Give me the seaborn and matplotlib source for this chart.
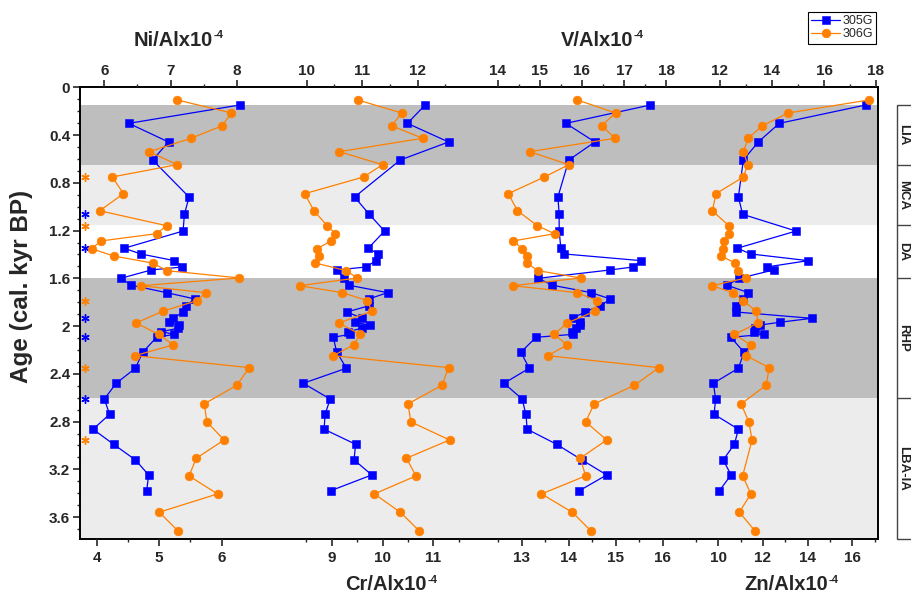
import matplotlib
matplotlib.use("Agg")
import numpy as np
import pandas as pd
import matplotlib.pyplot as plt
import seaborn as sns
from matplotlib.ticker import FixedLocator, FuncFormatter, MultipleLocator, NullFormatter
from matplotlib.patches import Rectangle
import matplotlib.transforms as mtransforms

# ---------------- data ----------------
ages_305G = [0.148, 0.302, 0.458, 0.609, 0.919, 1.064, 1.204, 1.348, 1.396, 1.452,
             1.505, 1.530, 1.600, 1.658, 1.720, 1.773, 1.829, 1.882, 1.935, 1.968,
             1.991, 2.018, 2.047, 2.069, 2.094, 2.219, 2.353, 2.479, 2.611, 2.739,
             2.864, 2.990, 3.121, 3.247, 3.379]
ages_306G = [0.106, 0.215, 0.322, 0.427, 0.539, 0.648, 0.751, 0.891, 1.034, 1.159,
             1.226, 1.287, 1.352, 1.413, 1.472, 1.536, 1.597, 1.662, 1.720, 1.787,
             1.876, 1.974, 2.069, 2.158, 2.248, 2.348, 2.496, 2.652, 2.803, 2.954,
             3.107, 3.255, 3.406, 3.559, 3.714]

ni_305G = [8.05, 6.37, 6.97, 6.73, 7.28, 7.21, 7.19, 6.30, 6.55, 7.06,
           7.18, 6.71, 6.25, 6.41, 6.94, 7.37, 7.23, 7.19, 7.04, 6.98,
           7.13, 7.12, 6.86, 7.06, 6.79, 6.58, 6.47, 6.18, 6.00, 6.08,
           5.83, 6.14, 6.47, 6.67, 6.64]
ni_306G = [7.10, 7.92, 7.78, 7.31, 6.68, 7.10, 6.12, 6.29, 5.93, 6.94,
           6.79, 5.95, 5.81, 6.14, 6.73, 6.95, 8.04, 6.55, 7.53, 7.40,
           6.88, 6.48, 6.82, 7.04, 6.46, 8.19, 8.00, 7.51, 7.55, 7.81,
           7.39, 7.28, 7.71, 6.83, 7.11]

cr_305G = [10.84, 10.49, 11.30, 10.35, 9.45, 9.74, 10.04, 9.72, 9.92, 9.87,
           9.68, 9.10, 9.24, 9.34, 10.10, 9.73, 9.74, 9.30, 9.60, 9.45,
           9.75, 9.59, 9.32, 9.36, 9.03, 9.10, 9.29, 8.44, 8.97, 8.87,
           8.85, 9.47, 9.44, 9.79, 8.98]
cr_306G = [9.51, 10.38, 10.18, 10.79, 9.15, 10.00, 9.63, 8.47, 8.65, 8.91,
           9.07, 8.99, 8.71, 8.75, 8.68, 9.29, 9.50, 8.37, 9.21, 9.70,
           9.79, 9.14, 9.56, 9.43, 9.03, 11.30, 11.17, 10.50, 10.56, 11.32,
           10.47, 10.66, 9.84, 10.35, 10.72]

v_305G = [17.63, 15.62, 16.31, 15.69, 15.43, 15.46, 15.46, 15.50, 15.58, 17.41,
          17.22, 16.67, 14.96, 15.30, 16.22, 16.68, 16.44, 16.07, 15.78, 15.96,
          15.96, 15.86, 15.76, 15.80, 14.91, 14.55, 14.75, 14.15, 14.58, 14.67,
          14.70, 15.40, 16.00, 16.59, 15.94]
v_306G = [15.89, 16.80, 16.47, 16.79, 14.76, 15.69, 15.11, 14.25, 14.47, 14.94,
          15.35, 14.37, 14.58, 14.70, 14.69, 14.96, 15.97, 14.36, 15.88, 16.37,
          16.31, 15.65, 15.34, 15.65, 15.19, 17.83, 17.25, 16.29, 16.09, 16.59,
          15.96, 16.09, 15.04, 15.77, 16.21]

zn_305G = [16.60, 12.73, 11.79, 11.12, 10.90, 11.09, 13.48, 10.85, 11.45, 14.02,
           12.17, 12.48, 10.94, 10.40, 11.34, 11.12, 10.79, 10.79, 14.18, 12.76,
           11.87, 11.64, 11.60, 12.05, 10.56, 11.15, 10.90, 9.78, 9.88, 9.81,
           10.90, 10.72, 10.22, 10.57, 10.05]
zn_306G = [16.75, 13.13, 11.97, 11.34, 11.12, 11.32, 11.12, 9.90, 9.73, 10.47,
           10.47, 10.24, 10.20, 10.13, 10.75, 10.90, 11.24, 9.73, 10.65, 11.12,
           11.70, 11.78, 10.72, 11.45, 11.24, 12.28, 12.14, 11.02, 11.37, 11.51,
           np.nan, 11.09, 11.46, 10.94, 11.64]

star_ages_305G = [1.064, 1.348, 1.935, 2.094, 2.611]
star_ages_306G = [0.751, 1.159, 1.787, 2.348, 2.954]

periods = ["LIA", "MCA", "DA", "RHP", "LBA-IA"]
period_bounds = [0.15, 0.65, 1.15, 1.6, 2.6, 3.786]
period_shades = ["#bebebe", "#ececec", "#ffffff", "#bebebe", "#ececec"]

series_names = ["305G", "306G"]
title_names = ["Ni/Alx10", "Cr/Alx10", "V/Alx10", "Zn/Alx10"]
title_exponent = "-4"

# ---------------- style ----------------
sns.set_style("white")
plt.rcParams["font.family"] = ["Liberation Sans", "DejaVu Sans"]
plt.rcParams["font.weight"] = "bold"

BLUE = "#0000ff"
ORANGE = "#ff8000"

W, H = 911, 598
fig = plt.figure(figsize=(W / 100, H / 100), dpi=100)

FL, FR, FT, FB = 80, 878, 87.3, 539.3
rect = [FL / W, (H - FB) / H, (FR - FL) / W, (FB - FT) / H]
YMAX = 3.786

# main frame axes
ax = fig.add_axes(rect)
ax.set_xlim(0, 1)
ax.set_ylim(YMAX, 0)
for i in range(len(periods)):
    ax.axhspan(period_bounds[i], period_bounds[i + 1], color=period_shades[i], lw=0, zorder=0)
ax.set_xticks([])
ax.yaxis.set_major_locator(FixedLocator(np.arange(0, 3.61, 0.4)))
ax.yaxis.set_minor_locator(MultipleLocator(0.1))
ax.yaxis.set_major_formatter(FuncFormatter(lambda v, p: f"{v:g}"))
ax.tick_params(axis="y", which="major", direction="out", length=5, width=1.2,
               labelsize=11, pad=2, left=True)
ax.tick_params(axis="y", which="minor", direction="out", length=2.5, width=1.0, left=True)
for s in ax.spines.values():
    s.set_linewidth(1.4)
    s.set_color("black")
    s.set_visible(True)

# asterisks
trans = mtransforms.blended_transform_factory(ax.transAxes, ax.transData)
ax.plot([5 / (FR - FL)] * len(star_ages_306G), star_ages_306G, ls="none",
        marker=(6, 2, 0), ms=6, mew=1.0, color=ORANGE, transform=trans, clip_on=False)
ax.plot([5 / (FR - FL)] * len(star_ages_305G), star_ages_305G, ls="none",
        marker=(6, 2, 0), ms=6, mew=1.0, color=BLUE, transform=trans, clip_on=False)

fig.text(22 / W, 1 - 286 / H, "Age (cal. kyr BP)", rotation=90, ha="center",
         va="center", fontsize=17.5, fontweight="bold")

# axis mappings: pixel = a + b * value
axis_specs = {
    "p1_top": dict(a=-292.9, b=66.2, major=[6, 7, 8], minor=[6.5, 7.5], side="top"),
    "p1_bot": dict(a=-153.3, b=62.5, major=[4, 5, 6], minor=[4.5, 5.5], side="bottom"),
    "p2_top": dict(a=-248.3, b=55.5, major=[10, 11, 12], minor=[10.5, 11.5, 12.5], side="top"),
    "p2_bot": dict(a=-125.5, b=50.8, major=[9, 10, 11], minor=[8.5, 9.5, 10.5, 11.5], side="bottom"),
    "p3_top": dict(a=-91.4, b=42.08, major=[14, 15, 16, 17, 18],
                   minor=[14.5, 15.5, 16.5, 17.5], side="top"),
    "p3_bot": dict(a=-89.3, b=47.0, major=[13, 14, 15, 16], minor=[12.5, 13.5, 14.5, 15.5], side="bottom"),
    "p4_top": dict(a=408.0, b=26.0, major=[12, 14, 16, 18], minor=[13, 15, 17], side="top"),
    "p4_bot": dict(a=494.9, b=22.34, major=[10, 12, 14, 16], minor=[9, 11, 13, 15, 17], side="bottom"),
}

axes = {}
for key, sp in axis_specs.items():
    a_ = fig.add_axes(rect)
    a_.patch.set_visible(False)
    a_.set_xlim((FL - sp["a"]) / sp["b"], (FR - sp["a"]) / sp["b"])
    a_.set_ylim(YMAX, 0)
    for s in a_.spines.values():
        s.set_visible(False)
    a_.set_yticks([])
    a_.xaxis.set_major_locator(FixedLocator(sp["major"]))
    a_.xaxis.set_minor_locator(FixedLocator(sp["minor"]))
    a_.xaxis.set_major_formatter(FuncFormatter(lambda v, p: f"{v:g}"))
    a_.xaxis.set_minor_formatter(NullFormatter())
    if sp["side"] == "top":
        a_.xaxis.tick_top()
        a_.tick_params(axis="x", which="both", top=True, bottom=False,
                       labeltop=True, labelbottom=False)
        a_.tick_params(axis="x", which="major", pad=1.5)
    else:
        a_.xaxis.tick_bottom()
        a_.tick_params(axis="x", which="both", top=False, bottom=True,
                       labeltop=False, labelbottom=True)
        a_.tick_params(axis="x", which="major", pad=3.5)
    a_.tick_params(axis="x", which="major", direction="out", length=5, width=1.2, labelsize=11)
    a_.tick_params(axis="x", which="minor", direction="out", length=2.5, width=1.0)
    a_.set_xlabel("")
    a_.set_ylabel("")
    axes[key] = a_

panels = [
    ("p1_top", ni_305G, ni_306G),
    ("p2_bot", cr_305G, cr_306G),
    ("p3_top", v_305G, v_306G),
    ("p4_bot", zn_305G, zn_306G),
]

handles = []
for key, blue_vals, orange_vals in panels:
    a_ = axes[key]
    for vals, ages, col, mk, ms, name in [
        (blue_vals, ages_305G, BLUE, "s", 5.5, series_names[0]),
        (orange_vals, ages_306G, ORANGE, "o", 6.3, series_names[1]),
    ]:
        df = pd.DataFrame({"value": vals, "age": ages}).dropna()
        sns.lineplot(data=df, x="value", y="age", sort=False, estimator=None,
                     color=col, marker=mk, markersize=ms, markeredgecolor=col,
                     markeredgewidth=0.4, linewidth=0.9, ax=a_, legend=False)
        a_.set_xlabel("")
        a_.set_ylabel("")
        if key == "p1_top":
            handles.append((a_.lines[-1], name))

# titles: (name, right edge of main text px, baseline px)
title_pos = [(title_names[0], 213.3, 45.5), (title_names[2], 633.3, 45.5),
             (title_names[1], 426.7, 590.5), (title_names[3], 828.0, 590.5)]
for name, xr, yb in title_pos:
    fig.text(xr / W, 1 - yb / H, name, ha="right", va="baseline",
             fontsize=14.5, fontweight="bold")
    fig.text((xr + 0.5) / W, 1 - (yb - 7.5) / H, title_exponent, ha="left",
             va="baseline", fontsize=8, fontweight="bold")

# legend
leg = fig.legend([h for h, _ in handles], [n for _, n in handles],
                 loc="upper right", bbox_to_anchor=(876 / W, 1 - 12 / H),
                 frameon=True, fancybox=False, framealpha=1, edgecolor="black",
                 prop={"family": "Liberation Sans", "weight": "normal", "size": 9},
                 handlelength=2.3, handletextpad=0.2, borderpad=0.25,
                 labelspacing=0.1, borderaxespad=0)
leg.get_frame().set_linewidth(0.8)

# period labels box
axr = fig.add_axes([897.3 / W, rect[1], 40 / W, rect[3]])
axr.set_xlim(0, 1)
axr.set_ylim(YMAX, 0)
axr.axis("off")
axr.add_patch(Rectangle((0, period_bounds[0]), 1, period_bounds[-1] - period_bounds[0],
                        fill=False, edgecolor="#444444", lw=1.0, clip_on=False))
for b in period_bounds[1:-1]:
    axr.plot([0, 1], [b, b], color="#444444", lw=1.0, clip_on=False)
for i, p in enumerate(periods):
    mid = (period_bounds[i] + period_bounds[i + 1]) / 2
    axr.text(6.3 / 40, mid, p, rotation=270, ha="center", va="center",
             fontsize=9.5, fontweight="bold", color="#222222")

fig.savefig("out.png", dpi=100)
